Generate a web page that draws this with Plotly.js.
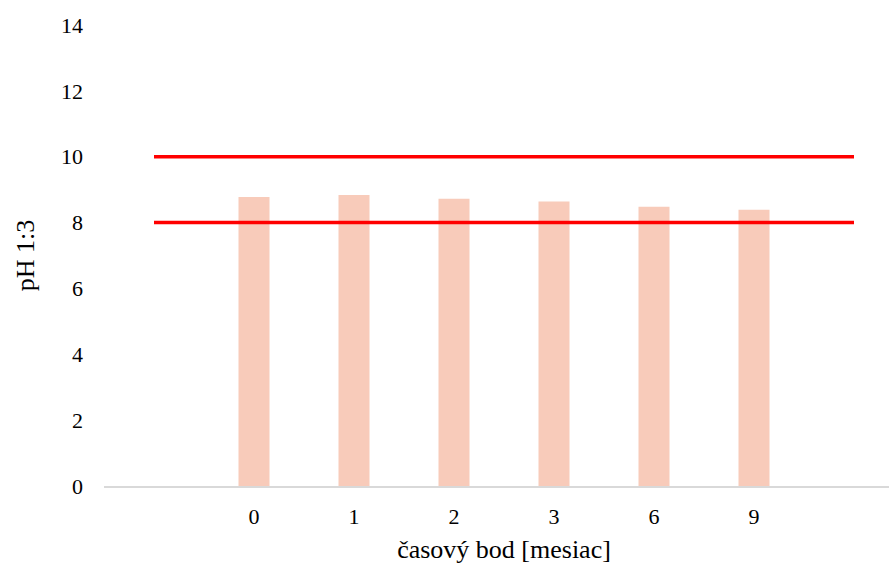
<!DOCTYPE html>
<html>
<head>
<meta charset="utf-8">
<script src="https://cdn.plot.ly/plotly-3.0.1.min.js"></script>
<style>
html, body { margin: 0; padding: 0; overflow: hidden; background: #fff; }
#chart { width: 920px; height: 566px; }
</style>
</head>
<body>
<div id="chart"></div>
<script>
// Data
const categories = ["0", "1", "2", "3", "6", "9"];
const phValues = [8.78, 8.84, 8.72, 8.64, 8.48, 8.39];
const upperLimit = [10, 10];
const lowerLimit = [8, 8];

// Category positions (slot indices); an empty slot at each end
const barX = categories.map((c, i) => i + 1);
const limitX = [0, categories.length + 1];

const traces = [
  {
    type: "bar",
    x: barX,
    y: phValues,
    width: 0.31,
    marker: { color: "#F8CBBA" },
    hoverinfo: "y",
    showlegend: false
  },
  {
    type: "scatter",
    mode: "lines",
    x: limitX,
    y: upperLimit,
    line: { color: "#FF0000", width: 3.5 },
    showlegend: false
  },
  {
    type: "scatter",
    mode: "lines",
    x: limitX,
    y: lowerLimit,
    line: { color: "#FF0000", width: 3.5 },
    showlegend: false
  }
];

const layout = {
  width: 920,
  height: 566,
  margin: { l: 104, r: 16, t: 25, b: 80 },
  paper_bgcolor: "#ffffff",
  plot_bgcolor: "#ffffff",
  font: { family: "'Liberation Serif', 'Times New Roman', serif", color: "#000000", size: 22 },
  showlegend: false,
  xaxis: {
    type: "linear",
    range: [-0.5, categories.length + 1.5],
    tickmode: "array",
    tickvals: barX,
    ticktext: categories,
    showgrid: false,
    zeroline: false,
    showline: true,
    linecolor: "#D9D9D9",
    linewidth: 1.5,
    ticks: "",
    ticklabelstandoff: 10,
    tickfont: { size: 22 },
    title: { text: "časový bod [mesiac]", font: { size: 26 }, standoff: 12 }
  },
  yaxis: {
    range: [0, 14],
    tickmode: "linear",
    tick0: 0,
    dtick: 2,
    showgrid: false,
    zeroline: false,
    showline: false,
    ticks: "",
    ticklabelstandoff: 20,
    tickfont: { size: 22 },
    title: { text: "pH 1:3", font: { size: 26 }, standoff: 18 }
  }
};

Plotly.newPlot("chart", traces, layout, { displayModeBar: false, staticPlot: true });
</script>
</body>
</html>
